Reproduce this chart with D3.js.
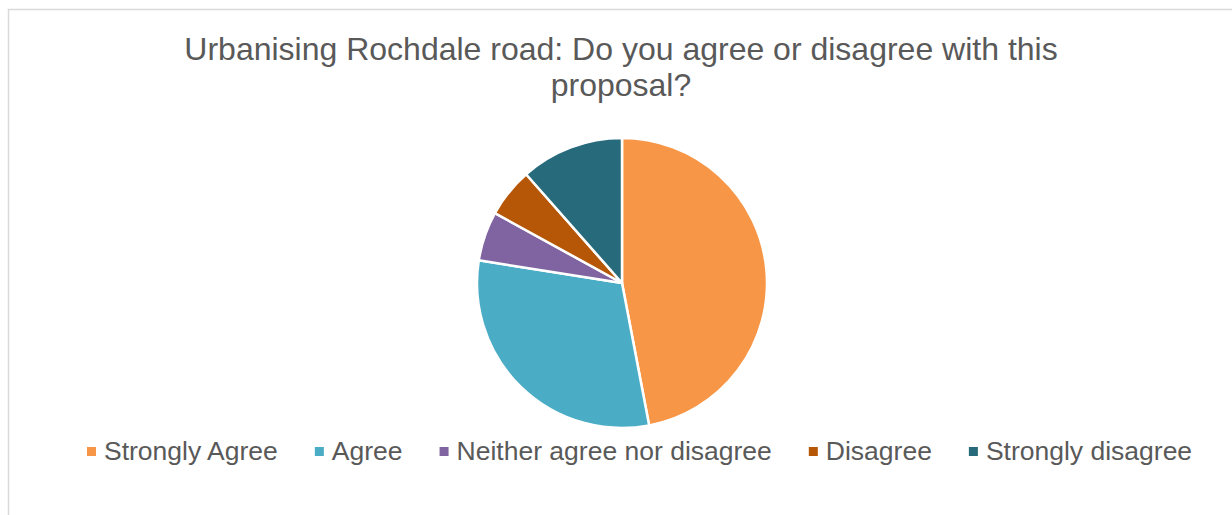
<!DOCTYPE html>
<html>
<head>
<meta charset="utf-8">
<script src="https://cdn.jsdelivr.net/npm/d3@7"></script>
<style>
  html, body { margin: 0; padding: 0; background: #fff; }
  svg { display: block; }
  text { font-family: "Liberation Sans", Arial, sans-serif; fill: #595959; }
</style>
</head>
<body>
<svg id="chart" width="1232" height="515"></svg>
<script>
// Survey responses (share of respondents, %)
const categories = ["Strongly Agree", "Agree", "Neither agree nor disagree", "Disagree", "Strongly disagree"];
const responses = [47, 30.5, 5.5, 5.5, 11.5];
const colours = ["#F79646", "#4BACC6", "#8064A2", "#B65708", "#276A7C"];
const titleLines = ["Urbanising Rochdale road: Do you agree or disagree with this", "proposal?"];

const W = 1232, H = 515;
const svg = d3.select("#chart");

// chart area frame
svg.append("rect")
  .attr("x", 8.5).attr("y", 9.5)
  .attr("width", W + 10).attr("height", H + 10)
  .attr("fill", "#fff")
  .attr("stroke", "#d9d9d9").attr("stroke-width", 1.5);

// title
const title = svg.append("text")
  .attr("text-anchor", "middle")
  .attr("font-size", 32);
titleLines.forEach((t, i) => {
  title.append("tspan")
    .attr("x", 621)
    .attr("y", 60 + i * 36)
    .text(t);
});

// pie
const cx = 622, cy = 283, r = 145;
const data = categories.map((c, i) => ({ name: c, value: responses[i] }));
const pie = d3.pie().value(d => d.value).sort(null);
const arc = d3.arc().innerRadius(0).outerRadius(r);
const colour = d3.scaleOrdinal().domain(categories).range(colours);

svg.append("g")
  .attr("transform", `translate(${cx},${cy})`)
  .selectAll("path")
  .data(pie(data))
  .join("path")
  .attr("d", arc)
  .attr("fill", d => colour(d.data.name))
  .attr("stroke", "#fff")
  .attr("stroke-width", 2.5)
  .attr("stroke-linejoin", "round");

// legend
const legend = svg.append("g");
const fs = 26.5, box = 9, gapBox = 8, gapItem = 37;
let x = 87;
const ly = 460;
categories.forEach(c => {
  const g = legend.append("g");
  g.append("rect")
    .attr("x", x).attr("y", ly - 13)
    .attr("width", box).attr("height", box)
    .attr("fill", colour(c));
  const t = g.append("text")
    .attr("x", x + box + gapBox)
    .attr("y", ly)
    .attr("font-size", fs)
    .text(c);
  x += box + gapBox + t.node().getComputedTextLength() + gapItem;
});
</script>
</body>
</html>
